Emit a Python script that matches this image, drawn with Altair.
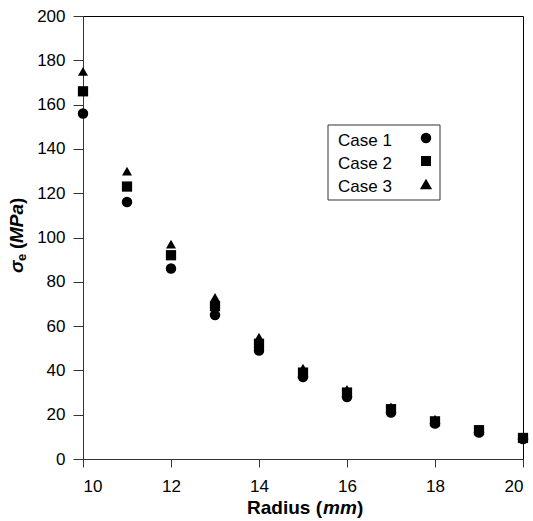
import altair as alt
import pandas as pd

radius = [10, 11, 12, 13, 14, 15, 16, 17, 18, 19, 20]
case1 = [156, 116, 86, 65, 49, 37, 28, 21, 16, 12, 9]
case2 = [166, 123, 92, 69, 52, 39, 30, 22.5, 17, 13, 9.5]
case3 = [175, 130, 97, 73, 55, 41, 31.5, 23.5, 18, 13.5, 10]
cases = ["Case 1", "Case 2", "Case 3"]
shapes = ["circle", "square", "triangle-up"]
sizes = [110, 100, 150]

rows = []
for name, vals in zip(cases, [case1, case2, case3]):
    for r, v in zip(radius, vals):
        rows.append({"radius": r, "stress": v, "case": name})
df = pd.DataFrame(rows)

FONT = "Liberation Sans"
W, H = 440, 443

points = alt.Chart(df).mark_point(filled=True, opacity=1, color="black").encode(
    x=alt.X("radius:Q", scale=alt.Scale(domain=[10, 20], nice=False, zero=False),
            axis=alt.Axis(values=[10, 12, 14, 16, 18, 20], title=None, tickSize=8,
                          labelPadding=11, labelFontSize=17, labelFont=FONT,
                          labelColor="black", domainColor="#333", tickColor="#333",
                          grid=False)),
    y=alt.Y("stress:Q", scale=alt.Scale(domain=[0, 200], nice=False),
            axis=alt.Axis(values=list(range(0, 201, 20)), title=None, tickSize=10,
                          labelPadding=8, labelFontSize=17, labelFont=FONT,
                          labelColor="black", domainColor="#333", tickColor="#333",
                          grid=False)),
    shape=alt.Shape("case:N", scale=alt.Scale(domain=cases, range=shapes), legend=None),
    size=alt.Size("case:N", scale=alt.Scale(domain=cases, range=sizes), legend=None),
)

layers = [points]


def txt(text, x, y, size=19, style="normal", angle=0, align="left", weight="bold"):
    return alt.Chart(pd.DataFrame({"t": [text]})).mark_text(
        font=FONT, fontSize=size, fontWeight=weight, fontStyle=style, angle=angle,
        align=align, baseline="middle", color="black"
    ).encode(text="t:N", x=alt.value(x), y=alt.value(y))


# x-axis title pieces
layers += [
    txt("Radius (", 239, 492, align="right"),
    txt("mm", 240, 492, style="italic"),
    txt(")", 274, 492),
]

# y-axis title pieces (rotated)
layers += [
    txt("σ", -66, 257, style="italic", angle=270),
    txt("e", -61, 245, size=13, angle=270),
    txt("(", -66, 233, angle=270),
    txt("MPa", -66, 227, style="italic", angle=270),
    txt(")", -66, 188, angle=270),
]

# legend box
box = alt.Chart(pd.DataFrame({"a": [0]})).mark_rect(
    fill="white", stroke="#333", strokeWidth=1
).encode(x=alt.value(245), x2=alt.value(357), y=alt.value(109), y2=alt.value(184))
layers.append(box)

leg_y = [125, 148, 171]
for name, shp, sz, yy in zip(cases, shapes, sizes, leg_y):
    layers.append(
        alt.Chart(pd.DataFrame({"t": [name]})).mark_text(
            font=FONT, fontSize=17, align="left", baseline="middle", color="black"
        ).encode(text="t:N", x=alt.value(255), y=alt.value(yy))
    )
    layers.append(
        alt.Chart(pd.DataFrame({"t": [name]})).mark_point(
            filled=True, opacity=1, color="black", shape=shp, size=sz
        ).encode(x=alt.value(343), y=alt.value(yy - 3))
    )

chart = alt.layer(*layers).properties(
    width=W, height=H,
    autosize=alt.AutoSizeParams(type="none"),
    padding={"left": 83, "top": 16, "right": 10, "bottom": 62},
    background="white",
).configure_view(stroke="black", strokeWidth=1)

chart.save("out.html", embed_options={"renderer": "svg", "actions": False})
